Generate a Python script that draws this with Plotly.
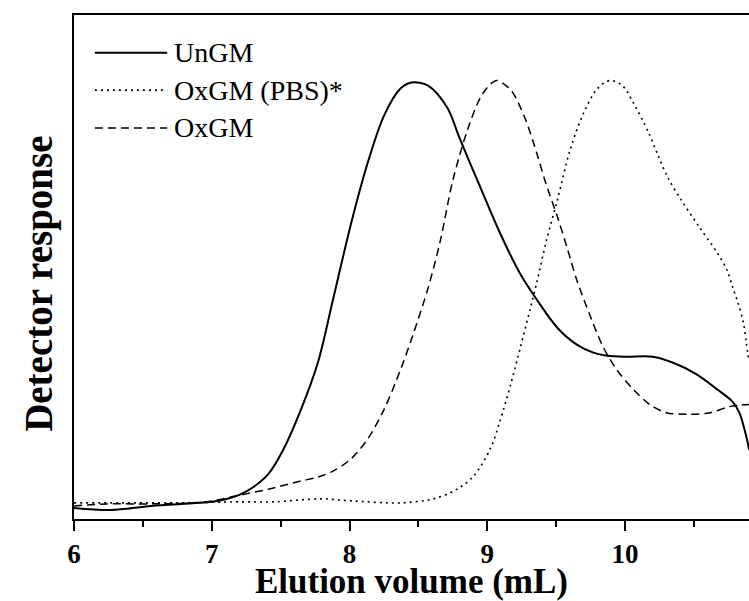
import plotly.graph_objects as go

# ---- data ----
ungm_x = [6.00, 6.27, 6.56, 7.00, 7.10, 7.20, 7.30, 7.41, 7.52, 7.64, 7.77, 7.88, 8.01, 8.13,
          8.25, 8.37, 8.45, 8.57, 8.71, 8.80, 8.95, 9.09, 9.24, 9.36, 9.51, 9.65, 9.77, 9.87,
          10.01, 10.20, 10.35, 10.52, 10.67, 10.78, 10.83, 10.88, 10.90]
ungm_y = [2.2, 1.8, 2.6, 3.4, 3.9, 4.8, 6.3, 8.9, 13.8, 21.2, 31.0, 43.5, 58.5, 70.5,
          80.0, 85.4, 86.6, 86.0, 81.6, 75.5, 65.8, 56.9, 48.6, 43.5, 37.9, 34.6, 33.0, 32.4,
          32.2, 32.2, 31.0, 28.7, 25.7, 23.3, 21.1, 16.4, 13.8]

pbs_x = [6.00, 6.34, 6.72, 7.21, 7.45, 7.79, 8.01, 8.37, 8.61, 8.78, 8.90, 9.02, 9.09, 9.17,
         9.24, 9.31, 9.36, 9.43, 9.51, 9.60, 9.70, 9.80, 9.89, 9.98, 10.06, 10.17, 10.24,
         10.31, 10.41, 10.54, 10.67, 10.74, 10.78, 10.82, 10.86, 10.88, 10.90]
pbs_y = [3.2, 3.2, 3.2, 3.4, 3.4, 4.0, 3.6, 3.2, 4.0, 5.9, 8.5, 13.8, 19.2, 26.7,
         34.0, 41.5, 47.0, 55.3, 63.4, 73.1, 80.6, 85.4, 87.0, 86.0, 82.6, 76.7, 72.1,
         67.8, 63.2, 57.9, 52.8, 49.4, 46.1, 42.9, 38.9, 35.0, 31.2]

oxgm_x = [6.00, 6.24, 6.56, 6.96, 7.16, 7.41, 7.64, 7.77, 7.88, 8.01, 8.13, 8.25, 8.37, 8.46,
          8.57, 8.66, 8.75, 8.86, 8.95, 9.02, 9.07, 9.145, 9.19, 9.28, 9.36, 9.43, 9.51, 9.58,
          9.65, 9.75, 9.84, 9.94, 10.06, 10.18, 10.30, 10.47, 10.62, 10.76, 10.90]
oxgm_y = [2.6, 3.0, 3.0, 3.4, 4.5, 5.9, 7.5, 8.3, 9.5, 11.9, 15.8, 21.7, 29.6, 36.5,
          45.8, 55.3, 67.2, 77.5, 83.6, 86.2, 87.0, 85.8, 84.4, 79.1, 72.5, 66.2, 59.9, 53.8,
          47.4, 40.1, 34.2, 29.6, 25.7, 22.7, 21.1, 20.8, 21.1, 22.3, 22.7]

series_names = ["UnGM", "OxGM (PBS)*", "OxGM"]
x_ticks = [6, 7, 8, 9, 10]
x_title = "Elution volume (mL)"
y_title = "Detector response"

FONT = "Liberation Serif, Times New Roman, serif"

styles = [
    dict(width=2, dash="solid"),
    dict(width=1.6, dash="2px,4px"),
    dict(width=1.5, dash="8px,5px"),
]

fig = go.Figure()
for (xs, ys), name, st in zip([(ungm_x, ungm_y), (pbs_x, pbs_y), (oxgm_x, oxgm_y)],
                              series_names, styles):
    fig.add_trace(go.Scatter(
        x=xs, y=ys, mode="lines", name=name, showlegend=False,
        line=dict(color="black", width=st["width"], dash=st["dash"],
                  shape="spline", smoothing=0.9),
    ))

# manual legend (long line samples as in the original)
leg_y = [0.925, 0.851, 0.776]
for name, st, yy in zip(series_names, styles, leg_y):
    fig.add_shape(type="line", xref="paper", yref="paper",
                  x0=0.031, x1=0.138, y0=yy, y1=yy,
                  line=dict(color="black", width=st["width"], dash=st["dash"]))
    fig.add_annotation(xref="paper", yref="paper", x=0.145, y=yy, text=name,
                       showarrow=False, xanchor="left", yanchor="middle",
                       font=dict(family=FONT, size=28, color="black"))

fig.add_annotation(xref="paper", yref="paper", x=-0.053, y=0.467, text=y_title,
                   textangle=-90, showarrow=False, xanchor="center", yanchor="middle",
                   font=dict(family=FONT, size=39, color="black", weight="bold"))

fig.update_layout(
    width=749, height=601,
    margin=dict(l=74, r=0, t=15, b=82),
    paper_bgcolor="white", plot_bgcolor="white",
    font=dict(family=FONT, color="black"),
    xaxis=dict(
        range=[6, 10.9], tickvals=x_ticks, ticktext=[str(t) for t in x_ticks],
        showline=True, linecolor="black", linewidth=2, mirror=True,
        ticks="outside", ticklen=10, tickwidth=2, tickcolor="black",
        minor=dict(dtick=0.5, tick0=6, ticks="outside", ticklen=6, tickwidth=2,
                   tickcolor="black", showgrid=False),
        tickfont=dict(family=FONT, size=27, color="black", weight="bold"),
        showgrid=False, zeroline=False,
        title=dict(text=x_title, standoff=8,
                   font=dict(family=FONT, size=35, color="black", weight="bold")),
    ),
    yaxis=dict(
        range=[0, 100], showline=True, linecolor="black", linewidth=2,
        showticklabels=False, ticks="", showgrid=False, zeroline=False,
    ),
)

fig.write_html("out.html", config={"displayModeBar": False},
               post_script="document.body.style.margin='0';document.body.style.overflow='hidden';")
